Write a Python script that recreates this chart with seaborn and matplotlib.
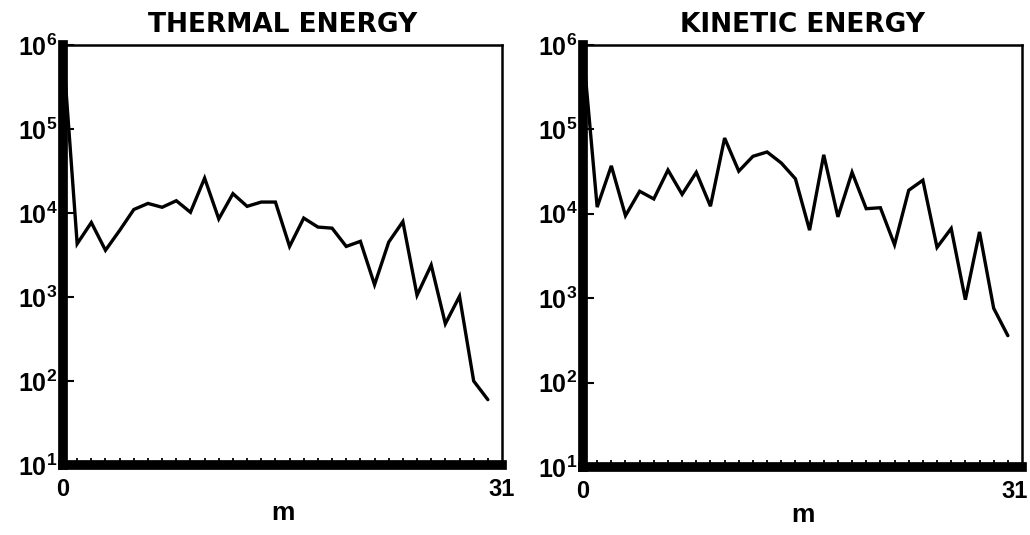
import numpy as np
import pandas as pd
import matplotlib
matplotlib.use("Agg")
import matplotlib.pyplot as plt
import matplotlib.transforms as mtrans
import seaborn as sns

m = list(range(31))
thermal = [9.0e5, 4.3e3, 7.7e3, 3.6e3, 6.2e3, 1.1e4, 1.3e4, 1.17e4, 1.4e4, 1.02e4,
           2.6e4, 8.5e3, 1.7e4, 1.2e4, 1.35e4, 1.35e4, 4.0e3, 8.7e3, 6.8e3, 6.6e3,
           4.0e3, 4.6e3, 1.4e3, 4.5e3, 7.9e3, 1.05e3, 2.4e3, 480, 1.02e3, 100, 60]
kinetic = [9.0e5, 1.2e4, 3.7e4, 9.5e3, 1.85e4, 1.5e4, 3.3e4, 1.7e4, 3.1e4, 1.23e4,
           7.9e4, 3.2e4, 4.8e4, 5.4e4, 4.0e4, 2.6e4, 6.4e3, 5.0e4, 9.2e3, 3.1e4,
           1.15e4, 1.18e4, 4.3e3, 1.9e4, 2.5e4, 4.0e3, 6.7e3, 960, 6.1e3, 760, 360]
titles = ["THERMAL ENERGY", "KINETIC ENERGY"]
xtick_labels = ["0", "31"]
ytick_vals = [1e1, 1e2, 1e3, 1e4, 1e5, 1e6]
ytick_labels = [r"$\mathbf{10^{%d}}$" % k for k in range(1, 7)]

sns.set_theme(style="ticks")
plt.rcParams["font.family"] = ["Liberation Sans", "DejaVu Sans"]
plt.rcParams["mathtext.fontset"] = "custom"
plt.rcParams["mathtext.bf"] = "Liberation Sans:bold"
plt.rcParams["mathtext.rm"] = "Liberation Sans"
for k in ["text.color", "axes.labelcolor", "xtick.color", "ytick.color",
          "xtick.labelcolor", "ytick.labelcolor"]:
    plt.rcParams[k] = "black"

fig = plt.figure(figsize=(10.3, 5.35), dpi=100)
W, H = 1030, 535
boxes = [(63, 45, 502, 465), (583, 45, 1022, 467)]

for i, (series, title) in enumerate(zip([thermal, kinetic], titles)):
    x0, y0, x1, y1 = boxes[i]
    ax = fig.add_axes([x0 / W, 1 - y1 / H, (x1 - x0) / W, (y1 - y0) / H])
    df = pd.DataFrame({"m": m, "E": series})
    sns.lineplot(data=df, x="m", y="E", ax=ax, color="black", linewidth=2.4,
                 solid_joinstyle="miter")
    ax.set_yscale("log")
    ax.set_xlim(0, 31)
    ax.set_ylim(1e1, 1e6)
    ax.set_yticks(ytick_vals)
    ax.set_yticklabels(ytick_labels)
    ax.yaxis.set_minor_locator(matplotlib.ticker.NullLocator())
    ax.set_xticks([0, 31])
    ax.set_xticklabels(xtick_labels, fontweight="bold")
    ax.set_xticks(list(range(1, 31)), minor=True)
    ax.tick_params(axis="x", which="major", length=0, pad=9, labelsize=17)
    ax.tick_params(axis="x", which="minor", direction="in", length=5, width=1.3, color="black")
    ax.tick_params(axis="y", which="major", direction="in", length=8, width=1.5,
                   labelsize=18, pad=4, color="black")
    for s in ["left", "bottom"]:
        ax.spines[s].set_linewidth(7)
        ax.spines[s].set_color("black")
    for s in ["top", "right"]:
        ax.spines[s].set_linewidth(1.8)
        ax.spines[s].set_color("black")
    ax.set_xlabel("m", fontsize=19, fontweight="bold", labelpad=0)
    ax.set_ylabel("")
    ax.set_title(title, fontsize=19, fontweight="bold", pad=9,
                 fontfamily="DejaVu Sans")
    ax.grid(False)
    if i == 1:
        lab = ax.get_xticklabels()[1]
        lab.set_transform(lab.get_transform() + mtrans.ScaledTranslation(-7 / 100, 0, fig.dpi_scale_trans))

fig.savefig("out.png", dpi=100)
